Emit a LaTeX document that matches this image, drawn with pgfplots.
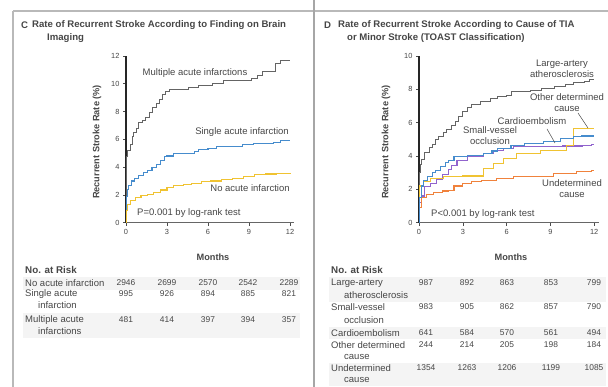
\documentclass[border=0pt]{standalone}
\usepackage{pgfplots}
\pgfplotsset{compat=1.18}
\usepackage{fontspec}
\setmainfont{Liberation Sans}
\definecolor{cgray}{RGB}{100,100,100}
\definecolor{cblue}{RGB}{70,140,205}
\definecolor{cyel}{RGB}{240,195,50}
\definecolor{cpur}{RGB}{145,100,205}
\definecolor{cora}{RGB}{240,130,60}
\definecolor{txt}{RGB}{70,70,70}
\newcommand{\tf}{\fontsize{9.5}{11}\selectfont}
\newcommand{\nf}{\fontsize{8.4}{10}\selectfont}
\newcommand{\tkf}{\fontsize{7.4}{8}\selectfont}
\newcommand{\lbf}{\fontsize{9.2}{10}\selectfont\bfseries}
\newcommand{\ttf}{\fontsize{9.6}{11}\selectfont\bfseries}
\begin{document}
\begin{tikzpicture}[x=1pt,y=1pt]
\path[use as bounding box] (0,0) rectangle (608,387);
% borders
\draw[gray!55,line width=1.5pt] (13,376) -- (608,376);
\draw[gray!55,line width=1.5pt] (13,376) -- (13,0);
\draw[gray!70,line width=2pt] (314,387) -- (314,0);
% table bands
\fill[gray!9] (23,110) rectangle (300,97);
\fill[gray!9] (23,74) rectangle (300,49);
\fill[gray!9] (329,110) rectangle (606,85);
\fill[gray!9] (329,60) rectangle (606,48);
\fill[gray!9] (329,24) rectangle (606,1);
\pgfplotsset{
  km/.style={
    scale only axis, xmin=0, xmax=12.3, ymin=0,
    axis x line*=bottom, axis y line*=left,
    y axis line style={line width=1.6pt, black!85},
    x axis line style={line width=1pt, black!60},
    xtick={0,3,6,9,12}, tick align=outside,
    major tick length=3pt,
    every tick/.style={black!70, line width=0.6pt},
    tick label style={font=\tkf, text=txt},
    /pgf/number format/assume math mode=true,
    clip=false,
    every axis plot/.append style={const plot, line width=1.1pt, no marks}
  }
}
% Panel C
\begin{axis}[km, at={(126pt,164.3pt)}, anchor=south west,
  width=168.1pt, height=166.8pt, ymax=12, ytick={0,2,...,12}]
\addplot[cgray, line width=0.9pt] coordinates {(0,0) (0.02,4.8) (0.1,5.2) (0.3,5.6) (0.45,6.2) (0.55,6.5) (0.75,6.8) (0.9,7.2) (1.2,7.35) (1.45,7.6) (1.7,7.9) (1.95,8.3) (2.2,8.6) (2.45,8.9) (2.65,9.2) (2.9,9.45) (3.2,9.6) (4.6,9.75) (5.3,9.85) (6.3,10.0) (7.1,10.2) (9.2,10.4) (9.6,10.6) (10.0,10.9) (10.9,11.45) (11.3,11.65) (12,11.65)};
\addplot[cblue] coordinates {(0,0) (0.02,1.9) (0.1,2.4) (0.2,2.7) (0.4,3.0) (0.6,3.2) (0.9,3.4) (1.3,3.6) (1.6,3.75) (1.9,3.95) (2.2,4.2) (2.5,4.45) (2.8,4.75) (3.0,4.8) (3.5,4.95) (4.1,5.0) (5.0,5.1) (5.3,5.25) (6.0,5.35) (6.6,5.45) (7.2,5.5) (8.5,5.6) (9.3,5.7) (10.8,5.75) (11.3,5.9) (12,5.9)};
\addplot[cyel] coordinates {(0,0) (0.02,0.9) (0.1,1.3) (0.3,1.6) (0.7,1.8) (1.1,1.95) (1.6,2.05) (2.0,2.2) (2.5,2.35) (3.0,2.5) (3.5,2.65) (4.2,2.75) (4.8,2.85) (5.5,2.95) (6.2,3.0) (7.0,3.1) (7.8,3.2) (8.6,3.35) (9.4,3.45) (10.2,3.5) (11.0,3.55) (12,3.6)};
\end{axis}
% Panel D
\begin{axis}[km, at={(419pt,164.3pt)}, anchor=south west,
  width=179.6pt, height=166.7pt, ymax=10, ytick={0,2,...,10}]
\addplot[cgray, line width=0.9pt] coordinates {(0,0) (0.02,3.0) (0.1,3.5) (0.2,3.8) (0.4,4.2) (0.7,4.5) (0.9,4.7) (1.1,5.0) (1.35,5.2) (1.7,5.4) (1.9,5.6) (2.2,5.85) (2.5,6.1) (2.7,6.35) (3.0,6.65) (3.3,6.9) (3.6,7.1) (4.2,7.25) (4.9,7.45) (5.4,7.6) (6.0,7.65) (6.3,7.85) (7.6,7.95) (8.4,8.05) (9.3,8.15) (10.0,8.3) (10.6,8.4) (11.3,8.5) (11.7,8.6) (12,8.6)};
\addplot[cpur] coordinates {(0,0) (0.02,1.2) (0.15,1.6) (0.4,2.15) (0.8,2.35) (1.2,2.6) (1.6,2.9) (2.0,3.2) (2.2,3.45) (2.6,3.75) (3.3,3.95) (4.4,4.15) (5.1,4.35) (5.8,4.45) (6.5,4.55) (9.8,4.6) (11.2,4.65) (11.8,4.7) (12,4.7)};
\addplot[cora] coordinates {(0,0) (0.02,0.9) (0.2,1.5) (0.5,1.7) (1.0,1.8) (1.6,1.9) (2.0,1.95) (2.4,2.2) (3.0,2.35) (3.6,2.45) (4.3,2.55) (5.3,2.65) (6.5,2.75) (9.2,2.95) (10.8,3.05) (11.8,3.15) (12,3.15)};
\addplot[cyel] coordinates {(0,0) (0.02,2.2) (0.3,2.45) (0.8,2.65) (1.7,2.75) (3.0,2.8) (4.4,3.25) (5.1,3.55) (5.8,3.85) (6.7,4.15) (8.3,4.35) (10.1,4.65) (10.6,5.65) (12,5.65)};
\addplot[cblue] coordinates {(0,0) (0.02,1.5) (0.15,2.2) (0.3,2.55) (0.6,2.75) (0.9,3.0) (1.1,3.15) (1.5,3.35) (1.8,3.6) (2.0,3.75) (2.4,3.95) (3.3,4.05) (4.4,4.15) (5.0,4.3) (5.4,4.45) (6.3,4.65) (7.2,4.75) (8.5,4.85) (9.7,5.05) (10.6,5.15) (11.1,5.2) (12,5.2)};
\end{axis}
% Titles
\node[anchor=west,font=\ttf,text=txt,inner sep=0pt] at (21,362) {C};
\node[anchor=west,font=\ttf,text=txt,inner sep=0pt] at (32,362) {Rate of Recurrent Stroke According to Finding on Brain};
\node[anchor=west,font=\ttf,text=txt,inner sep=0pt] at (47,349) {Imaging};
\node[anchor=west,font=\ttf,text=txt,inner sep=0pt] at (324,362) {D};
\node[anchor=west,font=\ttf,text=txt,inner sep=0pt] at (338,362) {Rate of Recurrent Stroke According to Cause of TIA};
\node[anchor=west,font=\ttf,text=txt,inner sep=0pt] at (347,349) {or Minor Stroke (TOAST Classification)};
% axis labels
\node[rotate=90,font=\lbf,text=txt] at (97,245) {Recurrent Stroke Rate (\%)};
\node[rotate=90,font=\lbf,text=txt] at (386,245) {Recurrent Stroke Rate (\%)};
\node[font=\lbf,text=txt] at (213,130) {Months};
\node[font=\lbf,text=txt] at (511,130) {Months};
% curve labels C
\node[font=\tf,text=txt] at (195,314) {Multiple acute infarctions};
\node[font=\tf,text=txt] at (242,255) {Single acute infarction};
\node[font=\tf,text=txt] at (250,199) {No acute infarction};
\node[font=\tf,text=txt,anchor=west,inner sep=0pt] at (137,174) {P=0.001 by log-rank test};
% curve labels D
\node[font=\tf,text=txt,align=center,inner sep=0pt] at (562,318) {Large-artery\\atherosclerosis};
\node[font=\tf,text=txt,align=center,inner sep=0pt] at (567,284) {Other determined\\cause};
\node[font=\tf,text=txt,inner sep=0pt] at (532,266) {Cardioembolism};
\node[font=\tf,text=txt,align=center,inner sep=0pt] at (490,251) {Small-vessel\\occlusion};
\node[font=\tf,text=txt,align=center,inner sep=0pt] at (572,198) {Undetermined\\cause};
\node[font=\tf,text=txt,anchor=west,inner sep=0pt] at (431,173) {P<0.001 by log-rank test};
\draw[txt,line width=0.5pt] (578,274) -- (588,259);
\draw[txt,line width=0.5pt] (547,258) -- (555,244);
% table C
\node[font=\fontsize{9.8}{11}\selectfont\bfseries,text=txt,anchor=west,inner sep=0pt] at (25,117) {No. at Risk};
\begin{scope}[every node/.style={font=\tf,text=txt,inner sep=0pt}]
\node[anchor=west] at (25,104) {No acute infarction};
\node[anchor=west] at (25,93) {Single acute};
\node[anchor=west] at (38,82) {infarction};
\node[anchor=west] at (25,67) {Multiple acute};
\node[anchor=west] at (38,56) {infarctions};
\end{scope}
\begin{scope}[every node/.style={font=\nf,text=txt,inner sep=0pt}]
\foreach \x/\a/\b/\c in {126/2946/995/481, 167/2699/926/414, 208/2570/894/397, 248/2542/885/394, 289/2289/821/357}{
  \node at (\x,104) {\a};
  \node at (\x,93) {\b};
  \node at (\x,67) {\c};
}
\end{scope}
% table D
\node[font=\fontsize{9.8}{11}\selectfont\bfseries,text=txt,anchor=west,inner sep=0pt] at (331,117) {No. at Risk};
\begin{scope}[every node/.style={font=\tf,text=txt,inner sep=0pt}]
\node[anchor=west] at (331,104) {Large-artery};
\node[anchor=west] at (344,92) {atherosclerosis};
\node[anchor=west] at (331,80) {Small-vessel};
\node[anchor=west] at (344,67) {occlusion};
\node[anchor=west] at (331,54) {Cardioembolism};
\node[anchor=west] at (331,42) {Other determined};
\node[anchor=west] at (344,30) {cause};
\node[anchor=west] at (331,19) {Undetermined};
\node[anchor=west] at (344,7) {cause};
\end{scope}
\begin{scope}[every node/.style={font=\nf,text=txt,inner sep=0pt}]
\foreach \x/\a/\b/\c/\d/\e in {426/987/983/641/244/1354, 467/892/905/584/214/1263, 507/863/862/570/205/1206, 551/853/857/561/198/1199, 594/799/790/494/184/1085}{
  \node at (\x,104) {\a};
  \node at (\x,80) {\b};
  \node at (\x,54) {\c};
  \node at (\x,42) {\d};
  \node at (\x,19) {\e};
}
\end{scope}
\end{tikzpicture}
\end{document}
